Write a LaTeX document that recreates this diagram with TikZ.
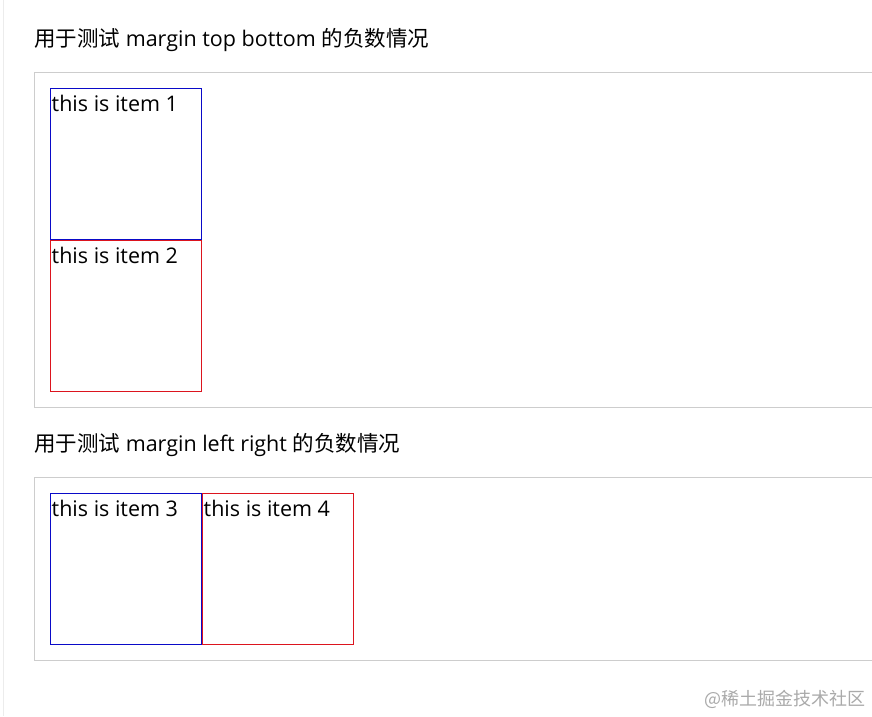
\documentclass[tikz,border=0pt]{standalone}
\usepackage{fontspec}
\setmainfont{Open Sans}
\newfontfamily\cjk{Noto Sans CJK SC}
\definecolor{itemblue}{RGB}{10,10,200}
\definecolor{itemred}{RGB}{220,20,30}
\definecolor{framegray}{RGB}{205,205,205}
\definecolor{edgegray}{RGB}{236,236,236}
\definecolor{markgray}{RGB}{170,170,170}
\tikzset{
  x=1pt, y=-1pt,
  title/.style={anchor=base west, inner sep=0pt, font=\fontsize{21.5}{24}\selectfont, text=black},
  frame/.style={draw=framegray, line width=1pt},
  itembox/.style={anchor=north west, minimum width=151pt, minimum height=151pt, inner sep=0pt, outer sep=0pt, line width=1pt},
  itemtext/.style={anchor=base west, inner sep=0pt, font=\fontsize{21.5}{24}\selectfont, text=black},
  wmark/.style={anchor=base east, inner sep=0pt, font=\cjk\fontsize{18}{21}\selectfont, text=markgray}
}
\begin{document}
\begin{tikzpicture}
\useasboundingbox[fill=white] (0,0) rectangle (872,716);
% faint left edge
\draw[edgegray, line width=1.5pt] (3.5,0) -- (3.5,716);
% section 1
\node[title] (t1) at (34,46) {{\cjk 用于测试} margin top bottom {\cjk 的负数情况}};
\draw[frame] (34.5,72.5) rectangle (880,407.5);
\node[itembox, draw=itemblue] (i1) at (50.5,88.5) {};
\node[itembox, draw=itemred] (i2) at (50.5,240.5) {};
\node[itemtext] (l1) at (51.5,111) {this is item 1};
\node[itemtext] (l2) at (51.5,263) {this is item 2};
% section 2
\node[title] (t2) at (34,451.5) {{\cjk 用于测试} margin left right {\cjk 的负数情况}};
\draw[frame] (34.5,477.5) rectangle (880,660.5);
\node[itembox, draw=itemblue] (i3) at (50.5,493.5) {};
\node[itembox, draw=itemred] (i4) at (202.5,493.5) {};
\node[itemtext] (l3) at (51.5,516) {this is item 3};
\node[itemtext] (l4) at (203.5,516) {this is item 4};
% watermark
\node[wmark] (wm) at (866,705) {@稀土掘金技术社区};
\end{tikzpicture}
\end{document}
